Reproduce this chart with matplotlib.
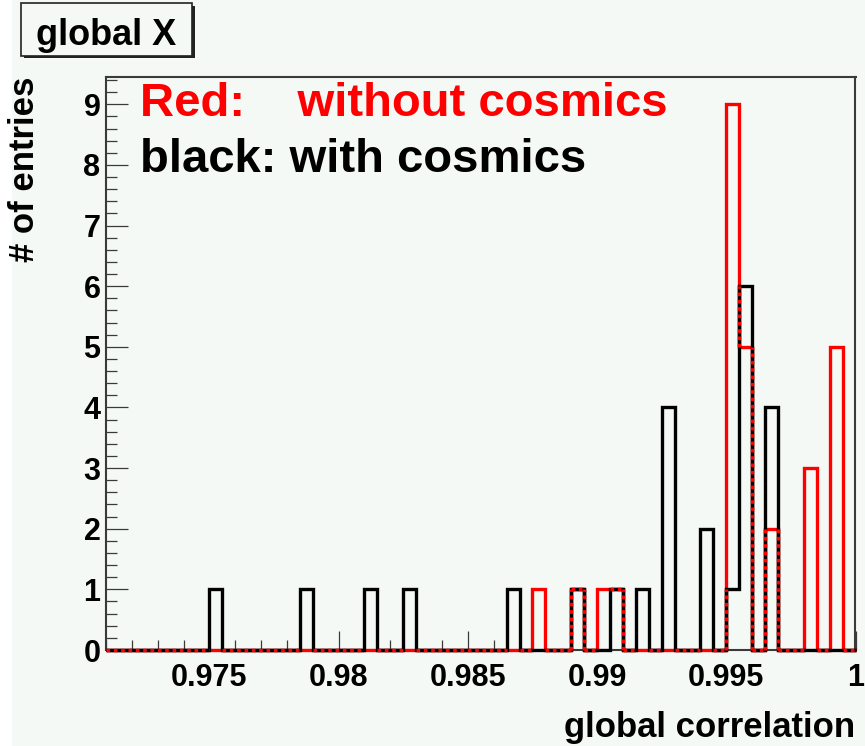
import numpy as np
import matplotlib
matplotlib.use("Agg")
import matplotlib.pyplot as plt
from matplotlib.patches import Rectangle
from matplotlib.collections import LineCollection
from matplotlib.ticker import MultipleLocator, FuncFormatter

plt.rcParams['font.family'] = ['Liberation Sans', 'DejaVu Sans']
plt.rcParams['font.weight'] = 'bold'

# histogram binning: 58 bins of 0.0005 between 0.971 and 1.0
x_lo, x_hi, n_bins = 0.971, 1.0, 58

# lower bin edge -> entries
black_bins = [0.975, 0.9785, 0.981, 0.9825, 0.9865, 0.989, 0.9905, 0.9915,
              0.9925, 0.994, 0.995, 0.9955, 0.9965]
black_counts = [1, 1, 1, 1, 1, 1, 1, 1, 4, 2, 1, 6, 4]
red_bins = [0.9875, 0.989, 0.990, 0.9905, 0.995, 0.9955, 0.9965, 0.998, 0.999]
red_counts = [1, 1, 1, 1, 9, 5, 2, 3, 5]

bg = '#f5f9f6'
frame = '#3a3a3a'

edges = np.linspace(x_lo, x_hi, n_bins + 1)
half = (x_hi - x_lo) / n_bins / 2
h_black, _ = np.histogram(np.array(black_bins) + half, bins=edges, weights=black_counts)
h_red, _ = np.histogram(np.array(red_bins) + half, bins=edges, weights=red_counts)

fig = plt.figure(figsize=(8.65, 7.46), dpi=100, facecolor=bg)
# white strip on the left edge of the canvas
fig.patches.append(Rectangle((0, 0), 12/865, 1, transform=fig.transFigure,
                             facecolor='white', edgecolor='none', zorder=-5))

ax = fig.add_axes([106/865, 1-650/746, 749.5/865, 573/746])
ax.set_facecolor(bg)

lw = 2.4
ax.stairs(h_red, edges, color='red', lw=lw, zorder=3, clip_on=False)
ax.stairs(h_black, edges, color='black', lw=lw, zorder=4, clip_on=False)
ax.axvline(edges[-1], color='red', lw=2.5, zorder=1)

# segments shared by both outlines look dashed red/black
shared = []
k = 0
while k < n_bins:
    if h_black[k] == h_red[k]:
        j = k
        while j + 1 < n_bins and h_black[j+1] == h_red[j+1] == h_black[k]:
            j += 1
        shared.append([(edges[k], h_black[k]), (edges[j+1], h_black[k])])
        k = j + 1
    else:
        k += 1
eb = np.concatenate([[0], h_black, [0]])
er = np.concatenate([[0], h_red, [0]])
for i in range(len(edges)):
    lo = max(min(eb[i], eb[i+1]), min(er[i], er[i+1]))
    hi = min(max(eb[i], eb[i+1]), max(er[i], er[i+1]))
    if hi > lo:
        shared.append([(edges[i], lo), (edges[i], hi)])

ax.add_collection(LineCollection(shared, colors='black', linewidths=lw,
                                 zorder=5, clip_on=False))
ax.add_collection(LineCollection(shared, colors='red', linewidths=lw,
                                 linestyles=[(0, (1.1, 1.1))], zorder=6, clip_on=False))

ax.set_xlim(x_lo, x_hi)
ax.set_ylim(0, 9.45)

ax.xaxis.set_major_locator(MultipleLocator(0.005))
ax.xaxis.set_minor_locator(MultipleLocator(0.001))
ax.yaxis.set_major_locator(MultipleLocator(1))
ax.yaxis.set_minor_locator(MultipleLocator(0.2))
ax.xaxis.set_major_formatter(FuncFormatter(lambda v, p: '%g' % round(v, 4)))
ax.tick_params(axis='x', which='major', direction='in', length=14, width=0.9,
               color=frame, labelsize=22, pad=9)
ax.tick_params(axis='x', which='minor', direction='in', length=7, width=0.9, color=frame)
ax.tick_params(axis='y', which='major', direction='in', length=16, width=0.9,
               color=frame, labelsize=22, pad=4)
ax.tick_params(axis='y', which='minor', direction='in', length=8, width=0.9, color=frame)
for s in ax.spines.values():
    s.set_color(frame)
    s.set_linewidth(1.5)
    s.set_zorder(2.5)

ax.set_xlabel('global correlation', fontsize=25, fontweight='bold', ha='right', va='baseline')
ax.xaxis.set_label_coords(1.0, -0.151)
ax.set_ylabel('# of entries', fontsize=25, fontweight='bold', ha='right', va='center')
ax.yaxis.set_label_coords(-(106 - 25) / 749.5, 1.0)

ax.text(0.045, 0.932, 'Red:    without cosmics', transform=ax.transAxes,
        color='red', fontsize=34, fontweight='bold', va='baseline')
ax.text(0.045, 0.835, 'black: with cosmics', transform=ax.transAxes,
        color='black', fontsize=34, fontweight='bold', va='baseline')

# title pave with shadow
bx0, bx1, by0, by1 = 20.7, 192, 3.3, 55.7
fig.patches.append(Rectangle(((bx0+3)/865, 1-(by1+2.5)/746), (bx1-bx0)/865, (by1-by0)/746,
                             transform=fig.transFigure, facecolor='#222222',
                             edgecolor='none', zorder=1))
fig.patches.append(Rectangle((bx0/865, 1-by1/746), (bx1-bx0)/865, (by1-by0)/746,
                             transform=fig.transFigure, facecolor=bg,
                             edgecolor='#222222', lw=1.2, zorder=2))
fig.text((bx0+bx1)/2/865, 1-45/746, 'global X', fontsize=26, fontweight='bold',
         ha='center', va='baseline', zorder=3)

fig.savefig('out.png', dpi=100, facecolor=bg)
